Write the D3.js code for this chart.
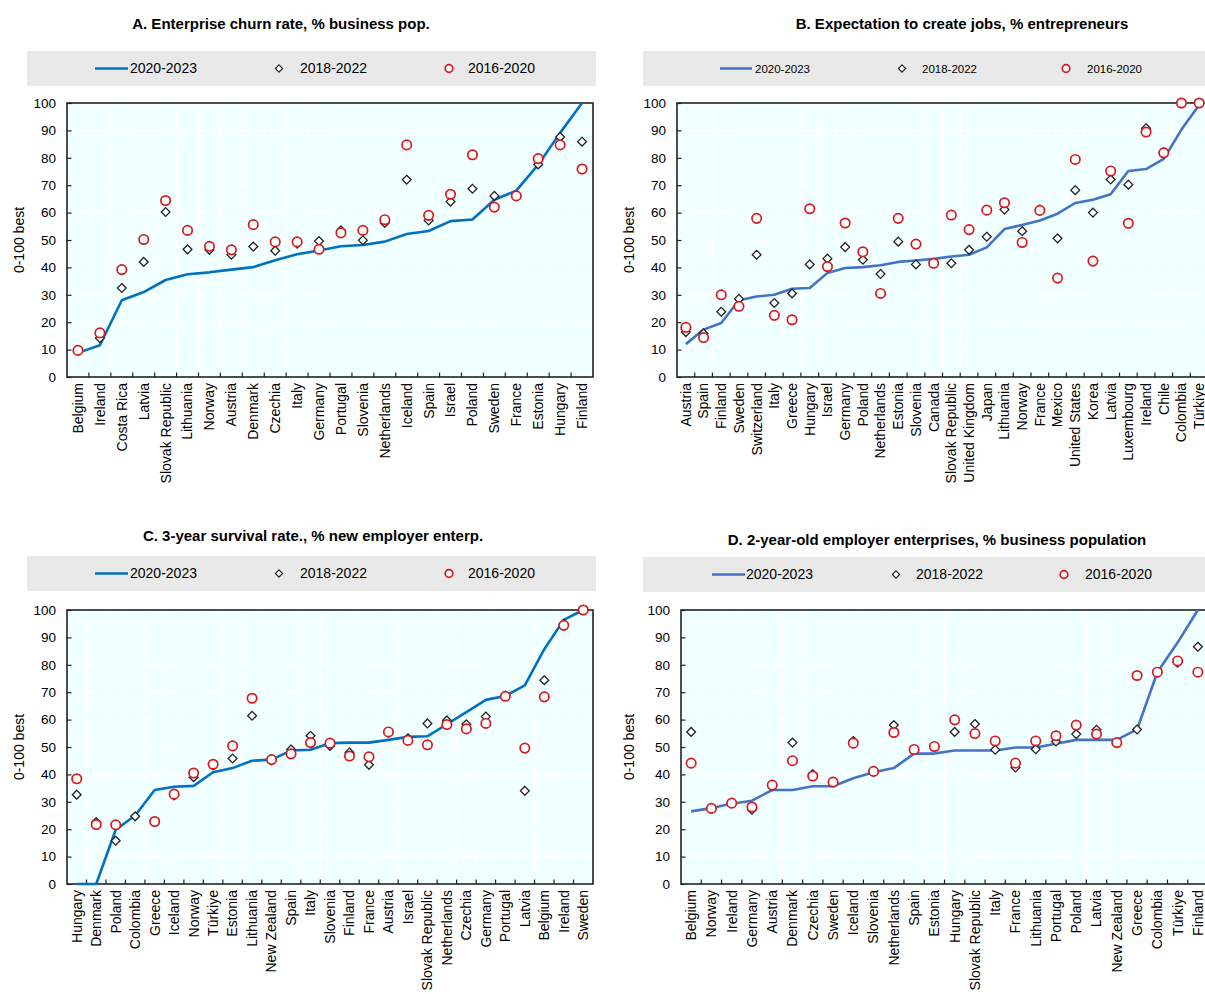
<!DOCTYPE html>
<html><head><meta charset="utf-8">
<script src="https://cdn.jsdelivr.net/npm/d3@7"></script>
<style>
body{margin:0;background:#fff}
svg{display:block}
text{font-family:"Liberation Sans",Arial,sans-serif;fill:#000}
</style>
</head><body>
<svg id="c" width="1205" height="994"></svg>
<script>
// ---------- Data ----------
const seriesNames = ["2020-2023", "2018-2022", "2016-2020"];
const yTicks = [0,10,20,30,40,50,60,70,80,90,100];

// Panel A
const titleA = "A. Enterprise churn rate, % business pop.";
const catsA = ["Belgium","Ireland","Costa Rica","Latvia","Slovak Republic","Lithuania","Norway","Austria","Denmark","Czechia","Italy","Germany","Portugal","Slovenia","Netherlands","Iceland","Spain","Israel","Poland","Sweden","France","Estonia","Hungary","Finland"];
const lineA = [8.8,11.6,28.0,31.0,35.4,37.5,38.2,39.2,40.1,42.6,44.8,46.2,47.7,48.2,49.4,52.2,53.3,56.9,57.5,64.7,68.0,77.5,89.1,100];
const diaA  = [9.7,14.2,32.5,42.0,60.2,46.6,46.4,44.6,47.6,46.1,48.7,49.6,53.5,49.9,56.2,72.0,57.1,64.0,68.7,66.1,66.1,77.6,87.6,85.9];
const circA = [9.7,16.1,39.2,50.2,64.4,53.5,47.7,46.4,55.6,49.3,49.3,46.6,52.6,53.5,57.4,84.7,59.0,66.7,81.1,62.0,66.1,79.7,84.7,75.9];

// Panel B
const titleB = "B. Expectation to create jobs, % entrepreneurs";
const catsB = ["Austria","Spain","Finland","Sweden","Switzerland","Italy","Greece","Hungary","Israel","Germany","Poland","Netherlands","Estonia","Slovenia","Canada","Slovak Republic","United Kingdom","Japan","Lithuania","Norway","France","Mexico","United States","Korea","Latvia","Luxembourg","Ireland","Chile","Colombia","Türkiye"];
const lineB = [12.0,17.3,19.7,28.0,29.4,30.0,32.2,32.5,38.0,39.8,40.1,40.8,42.0,42.5,43.1,44.0,44.6,47.3,54.0,55.5,57.1,59.6,63.5,64.7,66.7,75.2,75.9,79.6,90.3,99.3];
const diaB  = [16.4,15.9,23.8,28.5,44.6,27.0,30.5,41.1,43.2,47.4,42.8,37.6,49.4,41.1,41.5,41.5,46.4,51.2,61.1,53.2,61.1,50.6,68.2,60.0,72.1,70.2,90.8,82.0,100,100];
const circB = [18.1,14.4,30.0,25.8,57.9,22.5,20.9,61.4,40.3,56.2,45.7,30.5,57.9,48.5,41.5,59.1,53.8,60.9,63.6,49.1,60.8,36.1,79.4,42.3,75.2,56.1,89.4,81.8,100,100];

// Panel C
const titleC = "C. 3-year survival rate., % new employer enterp.";
const catsC = ["Hungary","Denmark","Poland","Colombia","Greece","Iceland","Norway","Türkiye","Estonia","Lithuania","New Zealand","Spain","Italy","Slovenia","Finland","France","Austria","Israel","Slovak Republic","Netherlands","Czechia","Germany","Portugal","Latvia","Belgium","Ireland","Sweden"];
const lineC = [-6,-1,19.8,25.0,34.3,35.5,35.8,40.8,42.3,45.0,45.4,48.7,49.0,51.4,51.6,51.6,52.6,53.7,53.9,58.3,62.7,67.2,68.6,72.5,85.7,96.4,100];
const diaC  = [32.6,22.6,15.8,24.7,22.8,32.3,39.0,43.3,45.8,61.4,45.2,49.1,54.1,50.4,48.0,43.5,55.2,53.2,58.6,59.7,58.3,61.1,68.8,34.0,74.4,95.0,100];
const circC = [38.4,21.7,21.6,null,22.8,32.8,40.5,43.7,50.4,67.8,45.4,47.5,51.6,51.4,46.7,46.4,55.5,52.4,50.8,58.2,56.6,58.6,68.5,49.6,68.3,94.4,100];

// Panel D
const titleD = "D. 2-year-old employer enterprises, % business population";
const catsD = ["Belgium","Norway","Ireland","Germany","Austria","Denmark","Czechia","Sweden","Iceland","Slovenia","Netherlands","Spain","Estonia","Hungary","Slovak Republic","Italy","France","Lithuania","Portugal","Poland","Latvia","New Zealand","Greece","Colombia","Türkiye","Finland"];
const lineD = [26.5,27.7,29.3,30.4,34.3,34.3,35.7,35.7,38.6,40.8,42.3,47.6,47.6,48.7,48.7,48.7,49.8,49.8,51.2,52.6,52.6,52.6,56.4,77.3,88.1,100];
const diaD  = [55.5,27.6,29.5,27.1,35.8,51.6,40.1,37.2,52.2,41.1,58.0,49.1,50.2,55.5,58.4,49.0,42.5,49.2,52.0,54.7,56.3,51.6,56.4,77.3,80.8,86.6];
const circD = [44.1,27.6,29.5,28.1,36.1,45.0,39.4,37.2,51.4,41.1,55.3,49.1,50.2,59.9,54.9,52.2,44.1,52.2,54.1,58.0,54.7,51.6,76.1,77.3,81.4,77.3];

// ---------- Drawing ----------
const svg = d3.select("#c");

function diamondPath(cx, cy, r){
  return `M${cx},${cy-r}L${cx+r},${cy}L${cx},${cy+r}L${cx-r},${cy}Z`;
}

function panel(o){
  const g = svg.append("g");
  const n = o.cats.length;
  const x1 = o.x0 + o.bw * n;
  const x = d3.scaleBand().domain(o.cats).range([o.x0, x1]);
  const y = d3.scaleLinear().domain([0,100]).range([o.y1, o.y0]).clamp(true);
  const cx = c => x(c) + x.bandwidth()/2;

  // title
  g.append("text").attr("x", o.tx).attr("y", o.ty).attr("text-anchor","middle")
    .attr("font-weight","bold").attr("font-size", 15).text(o.title);

  // legend
  const L = o.leg;
  g.append("rect").attr("x", L.x0).attr("y", L.y).attr("width", L.x1 - L.x0).attr("height", 35).attr("fill", "#e9e9e9");
  const ly = L.y + 17.5;
  g.append("line").attr("x1", L.lineX).attr("x2", L.lineX + L.lineW).attr("y1", ly).attr("y2", ly)
    .attr("stroke", o.color).attr("stroke-width", 2.5);
  g.append("text").attr("x", L.t1).attr("y", ly).attr("dy","0.35em").attr("font-size", L.fs).text(seriesNames[0]);
  g.append("path").attr("d", diamondPath(L.dx, ly, 3.6)).attr("fill","#fff").attr("stroke","#222").attr("stroke-width",1.2);
  g.append("text").attr("x", L.t2).attr("y", ly).attr("dy","0.35em").attr("font-size", L.fs).text(seriesNames[1]);
  g.append("circle").attr("cx", L.cx).attr("cy", ly).attr("r", 3.8).attr("fill","#fff").attr("stroke","#d7191c").attr("stroke-width",1.7);
  g.append("text").attr("x", L.t3).attr("y", ly).attr("dy","0.35em").attr("font-size", L.fs).text(seriesNames[2]);

  // plot background
  g.append("rect").attr("x", o.x0).attr("y", o.y0).attr("width", x1 - o.x0).attr("height", o.y1 - o.y0).attr("fill", "#f0ffff");

  // gridlines
  g.append("g").selectAll("line").data(yTicks.slice(1, -1)).join("line")
    .attr("x1", o.x0).attr("x2", x1).attr("y1", d => y(d)).attr("y2", d => y(d))
    .attr("stroke", "#fff").attr("stroke-width", 1);
  g.append("g").selectAll("line").data(o.cats.slice(1)).join("line")
    .attr("x1", d => x(d)).attr("x2", d => x(d)).attr("y1", o.y0).attr("y2", o.y1)
    .attr("stroke", "#fff").attr("stroke-width", 1);

  // x tick marks (inward, at category boundaries)
  g.append("g").selectAll("line").data(o.cats.slice(1)).join("line")
    .attr("x1", d => x(d)).attr("x2", d => x(d)).attr("y1", o.y1).attr("y2", o.y1 - 4.5)
    .attr("stroke", "#222").attr("stroke-width", 1.2);

  // y axis
  const ya = g.append("g").attr("transform", `translate(${o.x0},0)`)
    .call(d3.axisLeft(y).tickValues(yTicks).tickSizeInner(-4.5).tickSizeOuter(0).tickPadding(11));
  ya.select(".domain").remove();
  ya.selectAll("line").attr("stroke", "#222").attr("stroke-width", 1.2);
  ya.selectAll("text").attr("font-size", 13.5).attr("font-family", "Liberation Sans, Arial, sans-serif").attr("fill","#000");

  // x axis labels
  const xa = g.append("g").attr("transform", `translate(0,${o.y1})`)
    .call(d3.axisBottom(x).tickSize(0).tickPadding(0));
  xa.select(".domain").remove();
  xa.selectAll("text").attr("font-size", 14).attr("font-family", "Liberation Sans, Arial, sans-serif").attr("fill","#000")
    .attr("transform", "rotate(-90)").attr("x", -6).attr("y", 0).attr("dy", "0.35em").attr("text-anchor", "end");

  // y title
  g.append("text").attr("transform", `translate(${o.ytx},${(o.y0 + o.y1)/2}) rotate(-90)`)
    .attr("text-anchor", "middle").attr("dy", "0.35em").attr("font-size", 14).text("0-100 best");

  // border
  g.append("rect").attr("x", o.x0).attr("y", o.y0).attr("width", x1 - o.x0).attr("height", o.y1 - o.y0)
    .attr("fill", "none").attr("stroke", "#222").attr("stroke-width", 1.6);

  // line
  const line = d3.line().x((d, i) => cx(o.cats[i])).y(d => y(d));
  g.append("path").datum(o.line).attr("d", line).attr("fill", "none")
    .attr("stroke", o.color).attr("stroke-width", 2.6).attr("stroke-linejoin", "round");

  // diamonds
  g.append("g").selectAll("path").data(o.dia.map((v, i) => [o.cats[i], v]).filter(d => d[1] != null)).join("path")
    .attr("d", d => diamondPath(cx(d[0]), y(d[1]), 4.4))
    .attr("fill", "#fff").attr("stroke", "#222").attr("stroke-width", 1.3);

  // circles
  g.append("g").selectAll("circle").data(o.circ.map((v, i) => [o.cats[i], v]).filter(d => d[1] != null)).join("circle")
    .attr("cx", d => cx(d[0])).attr("cy", d => y(d[1])).attr("r", 4.7)
    .attr("fill", "#fff").attr("stroke", "#d7191c").attr("stroke-width", 1.7);
}

panel({title: titleA, cats: catsA, line: lineA, dia: diaA, circ: circA,
  x0: 67, bw: 526/24, y0: 103, y1: 377, tx: 281, ty: 29, ytx: 19, color: "#0070c0",
  leg: {x0: 27, x1: 596, y: 51, lineX: 95, lineW: 33, t1: 130, dx: 279, t2: 300, cx: 449, t3: 468, fs: 14}});

panel({title: titleB, cats: catsB, line: lineB, dia: diaB, circ: circB,
  x0: 677, bw: 17.7, y0: 103, y1: 377, tx: 962, ty: 29, ytx: 629, color: "#4472c4",
  leg: {x0: 643, x1: 1205, y: 51, lineX: 720, lineW: 32, t1: 755, dx: 902, t2: 922, cx: 1066, t3: 1087, fs: 11.5}});

panel({title: titleC, cats: catsC, line: lineC, dia: diaC, circ: circC,
  x0: 67, bw: 526/27, y0: 610, y1: 884, tx: 313, ty: 541, ytx: 19, color: "#0070c0",
  leg: {x0: 27, x1: 596, y: 556, lineX: 95, lineW: 33, t1: 130, dx: 279, t2: 300, cx: 449, t3: 468, fs: 14}});

panel({title: titleD, cats: catsD, line: lineD, dia: diaD, circ: circD,
  x0: 681, bw: 20.27, y0: 610, y1: 884, tx: 937, ty: 545, ytx: 629, color: "#4472c4",
  leg: {x0: 643, x1: 1205, y: 557, lineX: 712, lineW: 33, t1: 746, dx: 896, t2: 916, cx: 1064, t3: 1085, fs: 14}});
</script>
</body></html>
